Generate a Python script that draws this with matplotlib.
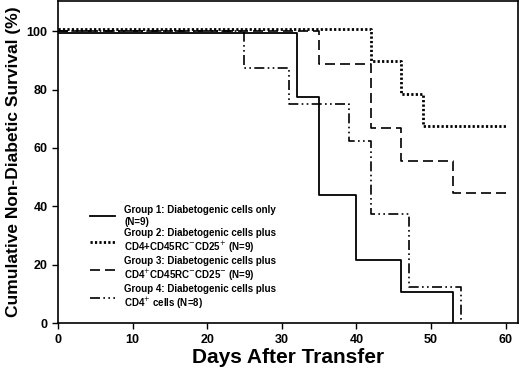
import matplotlib
matplotlib.use("Agg")
import matplotlib.pyplot as plt

plt.rcParams['font.family'] = ['Liberation Sans', 'DejaVu Sans']

# survival step data (day, % surviving)
g1_days = [0, 32, 35, 40, 46, 53]
g1_surv = [100, 77.8, 44.4, 22.2, 11.1, 0]
g2_days = [0, 42, 46, 49, 60]
g2_surv = [100, 88.9, 77.8, 66.7, 66.7]
g3_days = [0, 35, 42, 46, 53, 60]
g3_surv = [100, 88.9, 66.7, 55.6, 44.4, 44.4]
g4_days = [0, 25, 31, 39, 42, 47, 54]
g4_surv = [100, 87.5, 75, 62.5, 37.5, 12.5, 0]

labels = [
    "Group 1: Diabetogenic cells only\n(N=9)",
    "Group 2: Diabetogenic cells plus\nCD4+CD45RC$^{-}$CD25$^{+}$ (N=9)",
    "Group 3: Diabetogenic cells plus\nCD4$^{+}$CD45RC$^{-}$CD25$^{-}$ (N=9)",
    "Group 4: Diabetogenic cells plus\nCD4$^{+}$ cells (N=8)",
]

fig = plt.figure(figsize=(5.2, 3.68), dpi=100)
ax = fig.add_axes([0.1115, 0.122, 0.885, 0.875])

ax.step(g1_days, [v - 0.5 for v in g1_surv], where='post', color='black', lw=1.3, label=labels[0])
ax.step(g2_days, [v + 0.8 for v in g2_surv], where='post', color='black', lw=2.0, ls=(0, (0.8, 0.8)), label=labels[1])
ax.step(g3_days, g3_surv, where='post', color='black', lw=1.2, ls=(0, (6, 3)), label=labels[2])
ax.step(g4_days, g4_surv, where='post', color='black', lw=1.2, ls=(0, (6, 2, 1, 2, 1, 2)), label=labels[3])

ax.set_xlim(0, 61.7)
ax.set_ylim(0, 110.3)
ax.set_xticks([0, 10, 20, 30, 40, 50, 60])
ax.set_yticks([0, 20, 40, 60, 80, 100])
ax.tick_params(direction='out', length=4, width=1, labelsize=9)
for lab in ax.get_xticklabels() + ax.get_yticklabels():
    lab.set_fontweight('bold')
for s in ax.spines.values():
    s.set_linewidth(1.2)

ax.set_xlabel("Days After Transfer", fontsize=15, fontweight='bold', labelpad=2)
ax.set_ylabel("Cumulative Non-Diabetic Survival (%)", fontsize=12.5, fontweight='bold', labelpad=4)

leg = ax.legend(loc='lower left', bbox_to_anchor=(0.055, 0.015), frameon=False,
                prop={'size': 7, 'weight': 'bold'}, handlelength=2.6,
                handletextpad=0.9, labelspacing=0.1, borderpad=0.2)

fig.savefig("out.png", dpi=100)
